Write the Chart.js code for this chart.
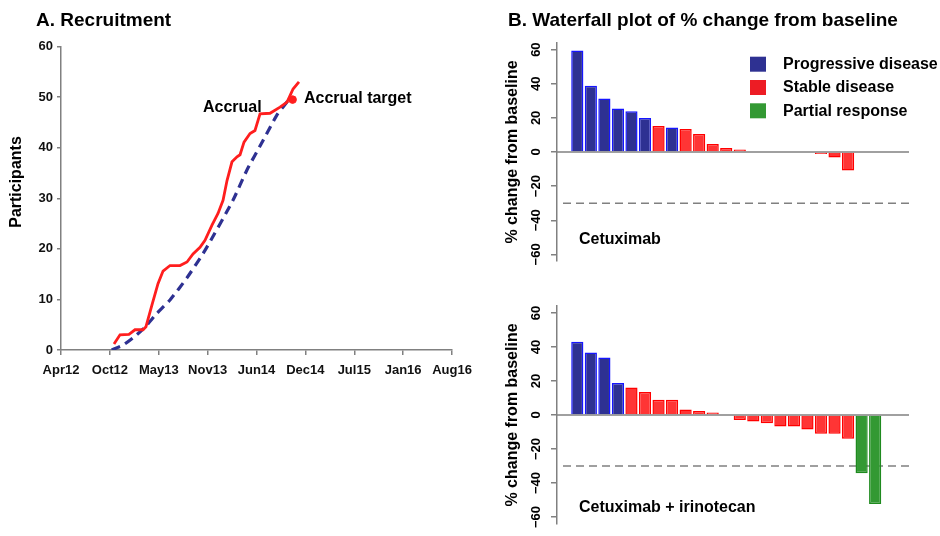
<!DOCTYPE html>
<html><head><meta charset="utf-8">
<script src="https://cdn.jsdelivr.net/npm/chart.js@4"></script>
<style>
html,body{margin:0;padding:0;background:#fff;width:940px;height:536px;overflow:hidden}
canvas{position:absolute}
</style></head><body>
<canvas id="cA" width="480" height="400" style="left:0;top:0"></canvas>
<canvas id="cB1" width="460" height="280" style="left:480px;top:0"></canvas>
<canvas id="cB2" width="460" height="256" style="left:480px;top:280px"></canvas>
<script>
const FONT = '"Liberation Sans", Arial, Helvetica, sans-serif';

// ---------- Panel A: recruitment ----------
const dateTickLabels = ['Apr12','Oct12','May13','Nov13','Jun14','Dec14','Jul15','Jan16','Aug16'];
const dateTickValues = [0, 6.5, 13, 19.5, 26, 32.5, 39, 45.5, 52]; // months since Apr 2012 (axis positions)
const participantTicks = [0, 10, 20, 30, 40, 50, 60];

const accrualMonths = [7.05, 7.85, 9.04, 9.84, 10.91, 11.30, 12.10, 12.90, 13.57, 14.50, 15.83, 16.76, 17.56, 18.49, 19.15, 20.08, 20.88, 21.55, 22.08, 22.74, 23.41, 23.81, 24.34, 25.14, 25.80, 26.47, 27.80, 29.13, 30.06, 30.46, 30.86, 31.65];
const accrualCount  = [1.2, 3, 3.1, 4, 4, 4.6, 8.9, 13.1, 15.6, 16.7, 16.7, 17.4, 19, 20.3, 21.7, 24.7, 27, 29.6, 33.5, 37.2, 38.2, 38.6, 41.1, 42.8, 43.4, 46.7, 46.8, 48, 49, 50.3, 51.6, 53];

const targetMonths = [6.74, 8.29, 10.07, 11.40, 12.73, 14.50, 16.72, 19.15, 22.87, 24.70, 26.87, 28.69, 30.19, 30.5];
const targetCount  = [0, 1, 3, 4.9, 7.2, 9.9, 14.2, 19.7, 29.6, 35.5, 41.4, 46.4, 49.3, 50];

const targetMarkerMonth = [30.8];
const targetMarkerCount = [49.5];

const textA = { title: 'A. Recruitment', yTitle: 'Participants', accrual: 'Accrual', target: 'Accrual target' };

const decorA = {
  id: 'decorA',
  afterDraw(chart) {
    const ctx = chart.ctx;
    ctx.save();
    ctx.fillStyle = '#000';
    ctx.textAlign = 'left';
    ctx.textBaseline = 'alphabetic';
    ctx.font = 'bold 19px ' + FONT;
    ctx.fillText(textA.title, 36, 26);
    ctx.font = 'bold 16px ' + FONT;
    ctx.fillText(textA.accrual, 203, 111.5);
    ctx.fillText(textA.target, 304, 103);
    ctx.translate(17, 182);
    ctx.rotate(-Math.PI / 2);
    ctx.textAlign = 'center';
    ctx.textBaseline = 'middle';
    ctx.fillText(textA.yTitle, 0, 0);
    ctx.restore();
  }
};

new Chart(document.getElementById('cA'), {
  type: 'line',
  data: {
    datasets: [
      { label: 'Accrual', data: accrualMonths.map((m, i) => ({ x: m, y: accrualCount[i] })),
        borderColor: '#FF1E1E', borderWidth: 2.8, pointRadius: 0, tension: 0, fill: false },
      { label: 'Target marker', data: targetMarkerMonth.map((m, i) => ({ x: m, y: targetMarkerCount[i] })),
        showLine: false, pointRadius: 3.8, pointBackgroundColor: '#FF1E1E', pointBorderColor: '#FF1E1E' },
      { label: 'Accrual target', data: targetMonths.map((m, i) => ({ x: m, y: targetCount[i] })),
        borderColor: '#2E3192', borderWidth: 3.2, borderDash: [9, 6], pointRadius: 0, tension: 0.2, fill: false }
    ]
  },
  options: {
    responsive: false, animation: false,
    layout: { padding: { left: 0, right: 28, top: 46.5, bottom: 20 } },
    plugins: { legend: { display: false }, tooltip: { enabled: false } },
    scales: {
      x: {
        type: 'linear', min: 0, max: 52,
        afterBuildTicks: s => { s.ticks = dateTickValues.map(v => ({ value: v })); },
        afterFit: s => { s.height = 30; },
        ticks: {
          autoSkip: false, maxRotation: 0, minRotation: 0, padding: 8,
          color: '#111', font: { family: FONT, size: 13, weight: 'bold' },
          callback: (v) => { const i = dateTickValues.indexOf(v); return i >= 0 ? dateTickLabels[i] : ''; }
        },
        grid: { display: true, drawOnChartArea: false, drawTicks: true, tickLength: 5, color: '#808080', lineWidth: 1.5 },
        border: { display: true, color: '#808080', width: 1.5 }
      },
      y: {
        type: 'linear', min: 0, max: 60,
        afterBuildTicks: s => { s.ticks = participantTicks.map(v => ({ value: v })); },
        afterFit: s => { s.width = 61; },
        ticks: { padding: 4, color: '#111', font: { family: FONT, size: 13, weight: 'bold' } },
        grid: { display: true, drawOnChartArea: false, drawTicks: true, tickLength: 4, color: '#808080', lineWidth: 1.5 },
        border: { display: true, color: '#808080', width: 1.5 }
      }
    }
  },
  plugins: [decorA]
});

// ---------- Panel B: waterfall plots ----------
const statusKeys  = ['PD', 'SD', 'PR'];
const statusNames = ['Progressive disease', 'Stable disease', 'Partial response'];
const statusFill   = { PD: '#2E3192', SD: '#FF3535', PR: '#339933' };
const statusBorder = { PD: '#1515FF', SD: '#FF0000', PR: '#1E8A1E' };
const legendSwatch = { PD: '#2E3192', SD: '#ED1C24', PR: '#339933' };

const changeTicks = [-60, -40, -20, 0, 20, 40, 60];
const responseCutoff = -30;

const cetuximabValues = [59.5, 38.8, 31.4, 25.5, 23.9, 20, 15.3, 14.3, 13.5, 10.6, 4.7, 2.4, 1.4, 0, 0, 0, 0, 0, -1.2, -3.2, -10.8];
const cetuximabStatus = ['PD','PD','PD','PD','PD','PD','SD','PD','SD','SD','SD','SD','SD','SD','SD','SD','SD','SD','SD','SD','SD'];

const comboValues = [43.1, 36.8, 33.8, 18.8, 16.2, 13.5, 8.9, 8.9, 3.3, 2.3, 1.4, 0, -2.9, -3.8, -4.8, -6.7, -6.7, -8.6, -11, -11, -13.9, -34.3, -52.4];
const comboStatus = ['PD','PD','PD','PD','SD','SD','SD','SD','SD','SD','SD','SD','SD','SD','SD','SD','SD','SD','SD','SD','SD','PR','PR'];

const textB = { title: 'B. Waterfall plot of % change from baseline', yTitle: '% change from baseline' };

function makeWaterfall(canvasId, values, status, cfg) {
  const nCat = 26;
  const labels = Array.from({ length: nCat }, (_, i) => 'c' + i);
  const datasets = statusKeys.map((k, si) => ({
    label: statusNames[si],
    data: labels.map((_, i) => {
      const j = i - 1;
      return (j >= 0 && j < values.length && status[j] === k) ? values[j] : null;
    }),
    backgroundColor: statusFill[k],
    borderColor: statusBorder[k],
    borderWidth: 1.5,
    barPercentage: 0.9,
    categoryPercentage: 1.0,
    grouped: false
  }));

  const decor = {
    id: 'wfDecor',
    beforeDatasetsDraw(chart) {
      const { ctx, chartArea: a } = chart;
      const y = chart.scales.y;
      ctx.save();
      ctx.strokeStyle = '#808080';
      ctx.lineWidth = 1.5;
      const y0 = y.getPixelForValue(0);
      ctx.beginPath(); ctx.moveTo(a.left, y0); ctx.lineTo(a.right, y0); ctx.stroke();
      ctx.setLineDash([8, 5]);
      const yc = y.getPixelForValue(responseCutoff);
      ctx.beginPath(); ctx.moveTo(a.left + 6, yc); ctx.lineTo(a.right, yc); ctx.stroke();
      ctx.restore();
    },
    afterDraw(chart) {
      const { ctx, chartArea: a } = chart;
      const y = chart.scales.y;
      ctx.save();
      ctx.fillStyle = '#000';
      ctx.font = 'bold 13px ' + FONT;
      y.ticks.forEach(t => {
        const v = t.value;
        const lab = v < 0 ? '\u2212' + Math.abs(v) : String(v);
        ctx.save();
        ctx.translate(a.left - 20.5, y.getPixelForValue(v));
        ctx.rotate(-Math.PI / 2);
        ctx.textAlign = 'center'; ctx.textBaseline = 'middle';
        ctx.fillText(lab, 0, 0);
        ctx.restore();
      });
      ctx.font = 'bold 16px ' + FONT;
      ctx.save();
      ctx.translate(33, (a.top + a.bottom) / 2);
      ctx.rotate(-Math.PI / 2);
      ctx.textAlign = 'center'; ctx.textBaseline = 'middle';
      ctx.fillText(textB.yTitle, 0, 0);
      ctx.restore();
      ctx.textAlign = 'left'; ctx.textBaseline = 'alphabetic';
      ctx.fillText(cfg.groupLabel, 99, cfg.groupBaseline);
      if (cfg.withTitle) {
        ctx.font = 'bold 19px ' + FONT;
        ctx.fillText(textB.title, 28, 26);
      }
      if (cfg.withLegend) {
        ctx.font = 'bold 16px ' + FONT;
        statusKeys.forEach((k, i) => {
          const top = 56.7 + i * 23.3;
          ctx.fillStyle = legendSwatch[k];
          ctx.fillRect(270, top, 16, 15);
          ctx.fillStyle = '#000';
          ctx.textBaseline = 'middle';
          ctx.fillText(statusNames[i], 303, top + 7.8);
        });
      }
      ctx.restore();
    }
  };

  new Chart(document.getElementById(canvasId), {
    type: 'bar',
    data: { labels, datasets },
    options: {
      responsive: false, animation: false,
      layout: { padding: { left: 0, right: 31, top: cfg.top, bottom: cfg.bottom } },
      plugins: { legend: { display: false }, tooltip: { enabled: false } },
      scales: {
        x: { type: 'category', display: false, offset: true, grid: { display: false } },
        y: {
          type: 'linear', min: -64, max: 64,
          afterBuildTicks: s => { s.ticks = changeTicks.map(v => ({ value: v })); },
          afterFit: s => { s.width = 77; },
          ticks: { display: false },
          grid: { display: true, drawOnChartArea: false, drawTicks: true, tickLength: 6, color: '#808080', lineWidth: 1.5 },
          border: { display: true, color: '#808080', width: 1.5 }
        }
      }
    },
    plugins: [decor]
  });
}

makeWaterfall('cB1', cetuximabValues, cetuximabStatus,
  { top: 42.8, bottom: 18.8, groupLabel: 'Cetuximab', groupBaseline: 244, withTitle: true, withLegend: true });
makeWaterfall('cB2', comboValues, comboStatus,
  { top: 26.2, bottom: 12.2, groupLabel: 'Cetuximab + irinotecan', groupBaseline: 232, withTitle: false, withLegend: false });
</script>
</body></html>
